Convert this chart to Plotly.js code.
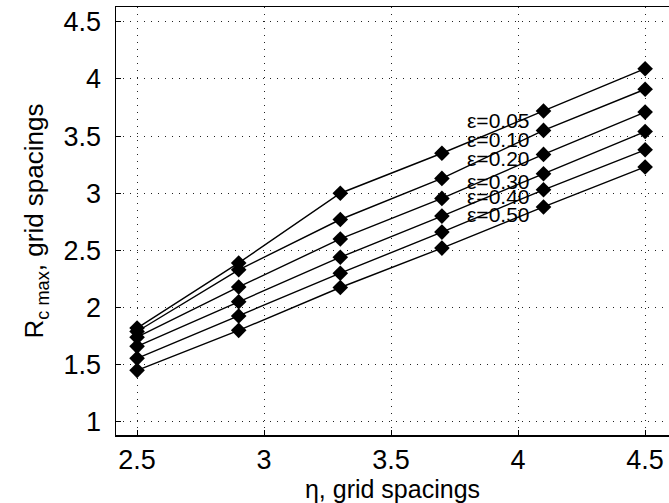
<!DOCTYPE html>
<html>
<head>
<meta charset="utf-8">
<script src="https://cdn.plot.ly/plotly-3.0.1.min.js"></script>
<style>html,body{margin:0;padding:0;background:#fff;}#chart{width:669px;height:503px;}</style>
</head>
<body>
<div id="chart"></div>
<script>
const eta = [2.5, 2.9, 3.3, 3.7, 4.1, 4.5];
const eps005 = [1.82, 2.39, 3.00, 3.35, 3.72, 4.09];
const eps010 = [1.79, 2.33, 2.77, 3.13, 3.55, 3.91];
const eps020 = [1.74, 2.18, 2.60, 2.955, 3.34, 3.71];
const eps030 = [1.66, 2.05, 2.44, 2.80, 3.17, 3.54];
const eps040 = [1.555, 1.925, 2.30, 2.66, 3.03, 3.38];
const eps050 = [1.45, 1.80, 2.175, 2.52, 2.88, 3.23];
const seriesNames = ['ε=0.05', 'ε=0.10', 'ε=0.20', 'ε=0.30', 'ε=0.40', 'ε=0.50'];
const seriesValues = [eps005, eps010, eps020, eps030, eps040, eps050];
const labelX = [4.055, 4.055, 4.055, 4.055, 4.055, 4.055];
const labelY = [3.64, 3.47, 3.30, 3.10, 2.97, 2.81];
const xTicks = [2.5, 3, 3.5, 4, 4.5];
const yTicks = [1, 1.5, 2, 2.5, 3, 3.5, 4, 4.5];

const font = 'Liberation Sans, Arial, Helvetica, sans-serif';
const traces = seriesValues.map((v, i) => ({
  x: eta, y: v, type: 'scatter', mode: 'lines+markers', name: seriesNames[i],
  line: {color: '#000', width: 1.4},
  marker: {symbol: 'diamond', size: 12, color: '#000'},
  showlegend: false, hoverinfo: 'skip'
}));

const annotations = seriesNames.map((t, i) => ({
  x: labelX[i], y: labelY[i], xref: 'x', yref: 'y', text: t, showarrow: false,
  xanchor: 'right', yanchor: 'middle', font: {family: font, size: 21, color: '#000'}
}));

const layout = {
  width: 669, height: 503,
  margin: {l: 116, r: 0, t: 7, b: 68},
  paper_bgcolor: '#fff', plot_bgcolor: '#fff',
  showlegend: false,
  font: {family: font, color: '#000'},
  xaxis: {
    range: [2.417, 4.594], tickvals: xTicks, ticktext: xTicks.map(String),
    ticks: 'inside', ticklen: 5, tickcolor: '#000', tickwidth: 1,
    showgrid: true, gridcolor: '#222', griddash: '1px,6px', gridwidth: 1,
    showline: true, linecolor: '#000', linewidth: 1.5, mirror: true,
    zeroline: false, tickfont: {family: font, size: 27, color: '#000'},
    title: {text: 'η, grid spacings', font: {family: font, size: 25, color: '#000'}, standoff: 0}
  },
  yaxis: {
    range: [0.884, 4.63], tickvals: yTicks, ticktext: yTicks.map(String),
    ticks: 'inside', ticklen: 5, tickcolor: '#000', tickwidth: 1,
    showgrid: true, gridcolor: '#222', griddash: '1px,6px', gridwidth: 1,
    showline: true, linecolor: '#000', linewidth: 1.5,
    zeroline: false, tickfont: {family: font, size: 27, color: '#000'},
    ticklabelstandoff: 8,
    title: {text: 'R<sub>c max</sub>, grid spacings', font: {family: font, size: 26, color: '#000'}, standoff: 12}
  },
  annotations: annotations
};

Plotly.newPlot('chart', traces, layout, {displayModeBar: false, staticPlot: true});
</script>
</body>
</html>
